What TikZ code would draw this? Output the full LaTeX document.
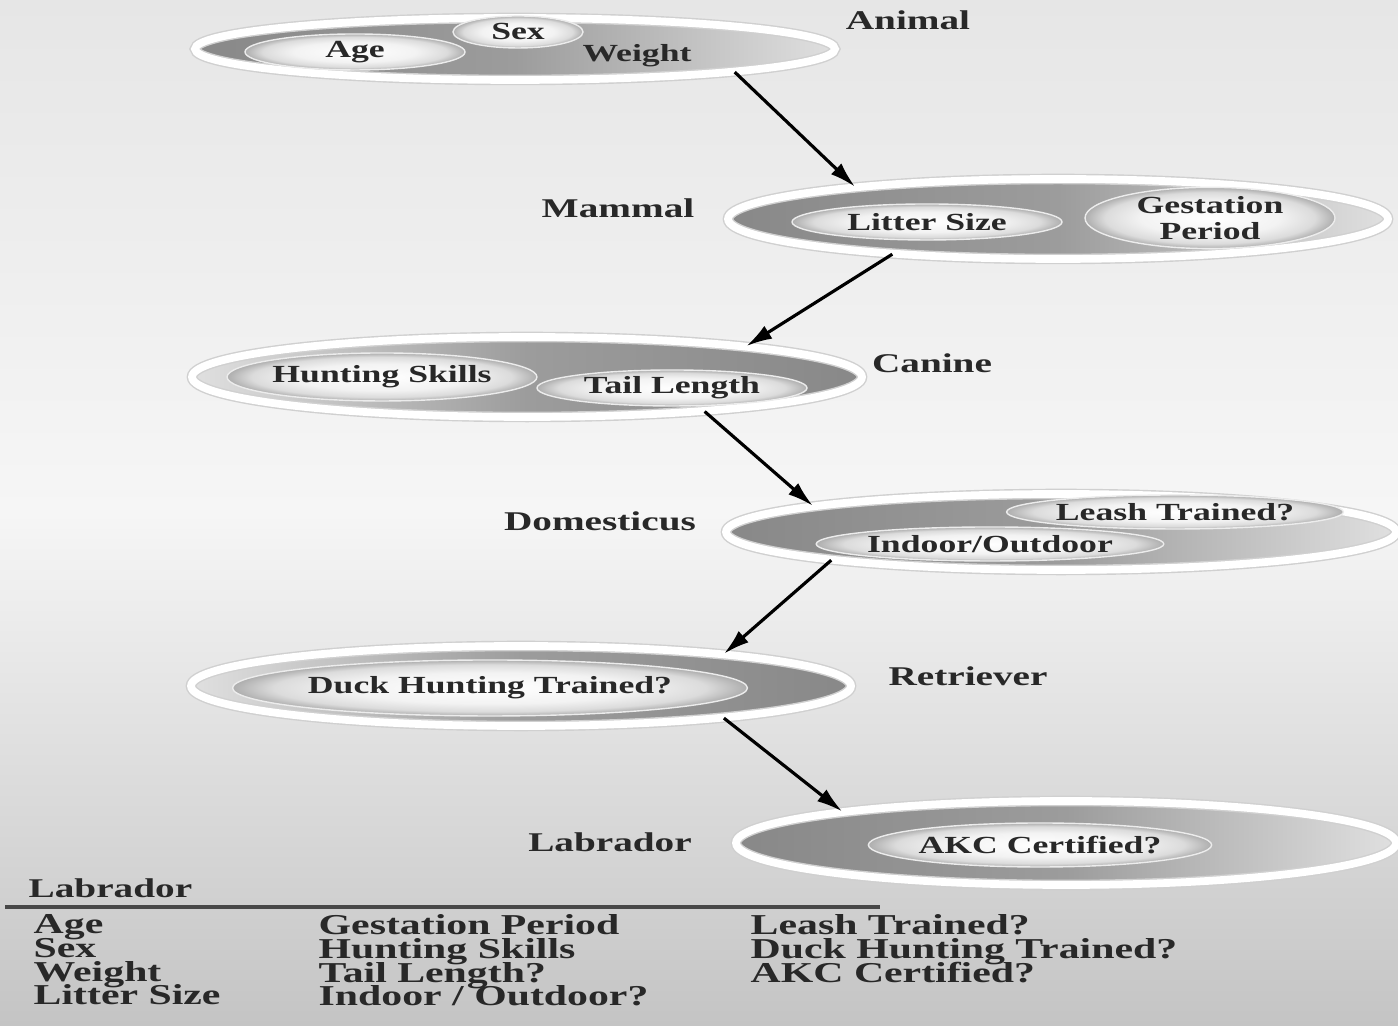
\documentclass[tikz,border=0pt]{standalone}
\usepackage{fontspec}
\usepackage{xcolor}
\usepackage{tikz}
\usetikzlibrary{shapes,arrows,arrows.meta,positioning,calc,shapes.geometric}
\newfontfamily\dogfont{Liberation Serif}[FakeStretch=1.45]
\newcommand{\listfont}{\dogfont\bfseries\fontsize{8.2}{6.75}\selectfont\lineskiplimit=-10pt\relax}
\definecolor{tikzdark}{RGB}{136, 136, 136}
\definecolor{tikzmid}{RGB}{156, 156, 156}
\definecolor{tikzlight}{RGB}{224, 224, 224}
\definecolor{tikzrim}{RGB}{208, 208, 208}
\definecolor{tikztext}{RGB}{40, 40, 40}
\definecolor{tikzbgtop}{RGB}{230, 230, 230}
\definecolor{tikzbgmid}{RGB}{246, 246, 246}
\definecolor{tikzbgbot}{RGB}{196, 196, 196}
\pgfdeclareradialshading{traitshade}{\pgfpoint{0bp}{0bp}}{color(0bp)=(white); color(14bp)=(white!95!black); color(21bp)=(white!86!black); color(25bp)=(white!68!black); color(50bp)=(white!68!black)}

\begin{document}
\begin{tikzpicture}[
        level/.style={ellipse, draw=tikzrim, double=white, double distance=2.2pt, line width=0.4pt, inner sep=0pt},
        darkleft/.style={level, left color=tikzdark, right color=tikzlight, middle color=tikzmid},
        darkright/.style={level, left color=tikzlight, right color=tikzdark, middle color=tikzmid},
        trait/.style={ellipse, draw=white!85!gray, line width=0.4pt, shading=traitshade, inner sep=0pt, align=center, font=\dogfont\bfseries\fontsize{7}{7.4}\selectfont, text=tikztext},
        rank/.style={font=\dogfont\bfseries\fontsize{7.7}{8}\selectfont, text=tikztext},
        link/.style={-{Latex[length=2.6mm,width=1.5mm]}, line width=0.9pt, draw=black},
        listcol/.style={anchor=north west, inner sep=0pt, align=left, text=tikztext, font=\listfont}
    ]
        % Background
        \useasboundingbox (0,0) rectangle (13.98,10.26);
        \shade[top color=tikzbgtop, bottom color=tikzbgbot, middle color=tikzbgmid] (0,0) rectangle (13.98,10.26);

        % Levels
        \node[darkleft, minimum width=6.4cm, minimum height=0.62cm] (animal) at (5.15, 9.77) {};
        \node[darkleft, minimum width=6.6cm, minimum height=0.80cm] (mammal) at (10.58, 8.07) {};
        \node[darkright, minimum width=6.7cm, minimum height=0.80cm] (canine) at (5.27, 6.49) {};
        \node[darkleft, minimum width=6.7cm, minimum height=0.76cm] (domest) at (10.61, 4.94) {};
        \node[darkright, minimum width=6.6cm, minimum height=0.80cm] (retriever) at (5.21, 3.40) {};
        \node[darkleft, minimum width=6.6cm, minimum height=0.84cm] (labrador) at (10.66, 1.83) {};

        % Traits
        \node[trait, minimum width=2.2cm, minimum height=0.36cm] (age) at (3.55, 9.74) {Age};
        \node[trait, minimum width=1.3cm, minimum height=0.32cm] (sex) at (5.18, 9.94) {Sex};
        \node[font=\dogfont\bfseries\fontsize{7}{7.4}\selectfont, text=tikztext] (weight) at (6.37, 9.70) {Weight};
        \node[trait, minimum width=2.7cm, minimum height=0.36cm] (litter) at (9.27, 8.04) {Litter Size};
        \node[trait, minimum width=2.5cm, minimum height=0.56cm] (gestation) at (12.10, 8.08) {Gestation\\Period};
        \node[trait, minimum width=2.8cm, minimum height=0.48cm] (hunting) at (3.82, 6.49) {Hunting Skills};
        \node[trait, minimum width=2.7cm, minimum height=0.36cm] (tail) at (6.72, 6.38) {Tail Length};
        \node[trait, minimum width=3.0cm, minimum height=0.34cm] (leash) at (11.75, 5.14) {Leash Trained?};
        \node[trait, minimum width=3.4cm, minimum height=0.34cm] (indoor) at (9.90, 4.82) {Indoor/Outdoor};
        \node[trait, minimum width=4.1cm, minimum height=0.56cm] (duck) at (4.90, 3.38) {Duck Hunting Trained?};
        \node[trait, minimum width=3.3cm, minimum height=0.44cm] (akc) at (10.40, 1.81) {AKC Certified?};

        % Labels
        \node[rank] (lblanimal) at (9.08, 10.06) {Animal};
        \node[rank] (lblmammal) at (6.18, 8.18) {Mammal};
        \node[rank] (lblcanine) at (9.32, 6.63) {Canine};
        \node[rank] (lbldomest) at (6.00, 5.05) {Domesticus};
        \node[rank] (lblretriever) at (9.68, 3.50) {Retriever};
        \node[rank] (lbllabrador) at (6.10, 1.84) {Labrador};

        % Inheritance arrows
        \draw[link] (animal.-6) -- (mammal.171);
        \draw[link] (mammal.192) -- (canine.8);
        \draw[link] (canine.-11) -- (domest.174.3);
        \draw[link] (domest.187.1) -- (retriever.9.5);
        \draw[link] (retriever.-9.5) -- (labrador.172.3);

        % Summary table
        \node[rank, anchor=base west, inner sep=0pt] (tabhead) at (0.28, 1.28) {Labrador};
        \coordinate (rulel) at (0.05, 1.19);
        \coordinate (ruler) at (8.80, 1.19);
        \draw[line width=1pt, draw=tikztext!85] (rulel) -- (ruler);
        \node[listcol] (col1) at (0.33, 1.12) {Age\\Sex\\Weight\\Litter Size};
        \node[listcol] (col2) at (3.18, 1.12) {Gestation Period\\Hunting Skills\\Tail Length?\\Indoor / Outdoor?};
        \node[listcol] (col3) at (7.50, 1.12) {Leash Trained?\\Duck Hunting Trained?\\AKC Certified?};
    \end{tikzpicture}
\end{document}
